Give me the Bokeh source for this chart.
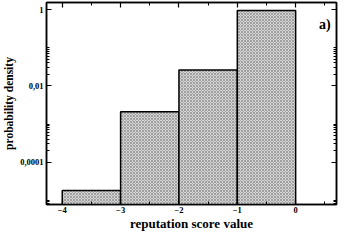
from bokeh.plotting import figure
from bokeh.models import (FixedTicker, LinearAxis, LogAxis, CustomJSTickFormatter,
                          Range1d, Label)
from bokeh.embed import file_html
from bokeh.resources import INLINE

# data
bin_left = [-4, -3, -2, -1]
bin_right = [-3, -2, -1, 0]
density = [1.8e-5, 0.0021, 0.026, 0.95]

x_ticks = [-4, -3, -2, -1, 0]
x_minor = [-4.5, -3.5, -2.5, -1.5, -0.5, 0.5]
y_ticks = [1e-4, 1e-2, 1]
y_minor = [m * 10.0 ** e for e in (-6, -4, -2, 0) for m in range(2, 11)]

FONT = "Liberation Serif"
X0, X1 = -4.27, 0.70
Y0, Y1 = 7.7e-6, 1.55

p = figure(width=338, height=233, output_backend="svg", toolbar_location=None,
           y_axis_type="log", x_range=Range1d(X0, X1), y_range=Range1d(Y0, Y1),
           min_border_left=0, min_border_right=2, min_border_top=2, min_border_bottom=0)
p.grid.visible = False
p.outline_line_color = "black"
p.outline_line_width = 1.5
p.background_fill_color = "white"
p.border_fill_color = "white"

p.quad(left=bin_left, right=bin_right, top=density, bottom=1e-9,
       fill_color="#d4d4d4", line_color="black", line_width=1.5,
       hatch_pattern="diagonal_cross", hatch_color="#8a8a8a", hatch_scale=3,
       hatch_weight=0.7)

xt = FixedTicker(ticks=x_ticks, minor_ticks=x_minor)
yt = FixedTicker(ticks=y_ticks, minor_ticks=y_minor)

fmt = CustomJSTickFormatter(code="""
if (tick >= 0.5) return '1';
if (Math.abs(tick - 0.01) < 1e-9) return '0,01';
if (Math.abs(tick - 0.0001) < 1e-12) return '0,0001';
return String(tick).replace('.', ',');
""")
blank = CustomJSTickFormatter(code="return '';")

def style(ax):
    ax.major_tick_in = 5
    ax.major_tick_out = 0
    ax.minor_tick_in = 3
    ax.minor_tick_out = 0
    ax.axis_line_width = 1.5
    ax.major_tick_line_width = 1.2
    ax.minor_tick_line_width = 1
    ax.major_label_text_font = FONT
    ax.major_label_text_font_style = "bold"
    ax.major_label_text_font_size = "8.5px"
    ax.major_label_text_color = "black"
    ax.axis_label_text_font = FONT
    ax.axis_label_text_font_style = "bold"
    ax.axis_label_text_font_size = "13px"
    ax.axis_label_text_color = "black"
    ax.major_label_standoff = 4

p.xaxis.ticker = xt
p.yaxis.ticker = yt
p.yaxis.formatter = fmt
p.xaxis.axis_label = "reputation score value"
p.yaxis.axis_label = "probability density"
style(p.xaxis[0])
style(p.yaxis[0])
p.xaxis[0].axis_label_standoff = 0
p.xaxis[0].major_label_standoff = 2
p.yaxis[0].axis_label_text_font_size = "11.5px"
p.yaxis[0].axis_label_standoff = 2
p.yaxis[0].major_label_standoff = 3

top_ax = LinearAxis(ticker=xt, formatter=blank)
style(top_ax)
top_ax.major_label_standoff = 0
right_ax = LogAxis(ticker=yt, formatter=blank)
style(right_ax)
right_ax.major_label_standoff = 0
p.add_layout(top_ax, "above")
p.add_layout(right_ax, "right")

p.add_layout(Label(x=0.5, y=0.40, text="a)", text_font=FONT, text_font_style="bold",
                   text_font_size="14px", text_align="center", text_baseline="middle",
                   text_color="black"))

open("out.html", "w").write(file_html(p, INLINE))
